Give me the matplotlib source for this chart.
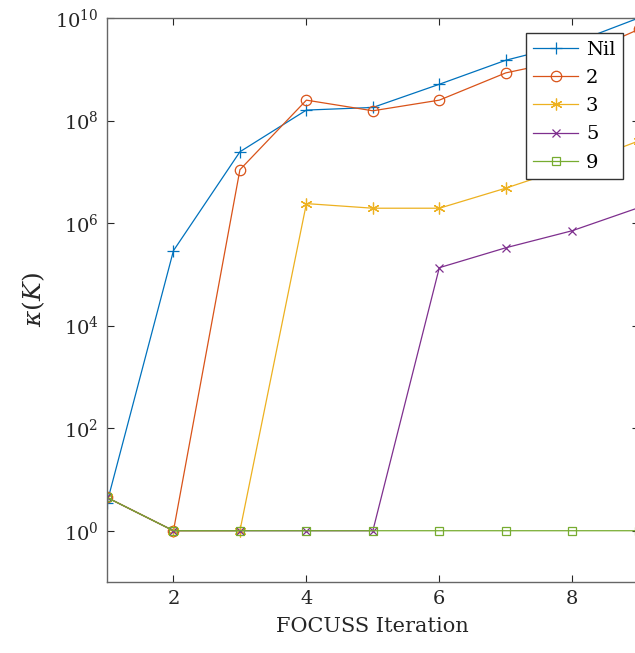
import numpy as np
import matplotlib
matplotlib.use("Agg")
import matplotlib.pyplot as plt

plt.rcParams['font.family'] = ['DejaVu Serif']
plt.rcParams['mathtext.fontset'] = 'dejavuserif'

# FOCUSS iterations and condition numbers per setting
iters = [1, 2, 3, 4, 5, 6, 7, 8, 9]
k_nil = [3.5, 2.9e5, 2.46e7, 1.6e8, 1.8e8, 5.1e8, 1.5e9, 3.2e9, 1.0e10]
k_2 = [4.45, 1, 1.1e7, 2.5e8, 1.55e8, 2.5e8, 8.5e8, 1.6e9, 6.0e9]
k_3 = [4.45, 1, 1, 2.4e6, 1.95e6, 1.95e6, 4.8e6, 1.3e7, 4.0e7]
k_5 = [4.45, 1, 1, 1, 1, 1.35e5, 3.3e5, 7.1e5, 2.0e6]
k_9 = [4.45, 1, 1, 1, 1, 1, 1, 1, 1]

labels = ["Nil", "2", "3", "5", "9"]
series = [k_nil, k_2, k_3, k_5, k_9]
# MATLAB-like markers: plus, circle, asterisk, cross, square
markers = ["+", "o", (6, 2, 0), "x", "s"]
msizes = [9, 7.5, 8.5, 6, 6]
colors = ["#0072BD", "#D95319", "#EDB120", "#7E2F8E", "#77AC30"]

fig = plt.figure(figsize=(6.35, 6.53), dpi=100)
# axes runs slightly past the right edge, like the cropped original
ax = fig.add_axes([107 / 635, 71 / 653, 531.7 / 635, 564 / 653])

for y, lab, m, ms, c in zip(series, labels, markers, msizes, colors):
    ax.plot(iters, y, marker=m, color=c, label=lab, linewidth=0.9,
            markersize=ms, markerfacecolor="none", markeredgewidth=0.9)

ax.set_yscale("log")
ax.set_xlim(1, 9)
ax.set_ylim(1e-1, 1e10)
ax.set_xticks([2, 4, 6, 8])
ax.set_yticks([1e0, 1e2, 1e4, 1e6, 1e8, 1e10])
ax.yaxis.set_minor_locator(matplotlib.ticker.NullLocator())
ax.tick_params(direction="in", length=5, width=0.8, colors="#262626",
               labelsize=14, top=True, right=True, pad=6)
for sp in ax.spines.values():
    sp.set_color("#666666")
    sp.set_linewidth(1.0)

ax.set_xlabel("FOCUSS Iteration", fontsize=15, color="#262626", labelpad=6)
ax.set_ylabel(r"$\kappa(K)$", fontsize=18, color="#262626", labelpad=6)

leg = ax.legend(loc="upper left", bbox_to_anchor=(525.7 / 635, 1 - 33.3 / 653),
                bbox_transform=fig.transFigure, fontsize=14, fancybox=False,
                framealpha=1, edgecolor="#333333", handlelength=2.3,
                labelspacing=0.52, borderaxespad=0, borderpad=0.4,
                handletextpad=0.4)
leg.get_frame().set_linewidth(1.0)

fig.savefig("out.png", dpi=100)
